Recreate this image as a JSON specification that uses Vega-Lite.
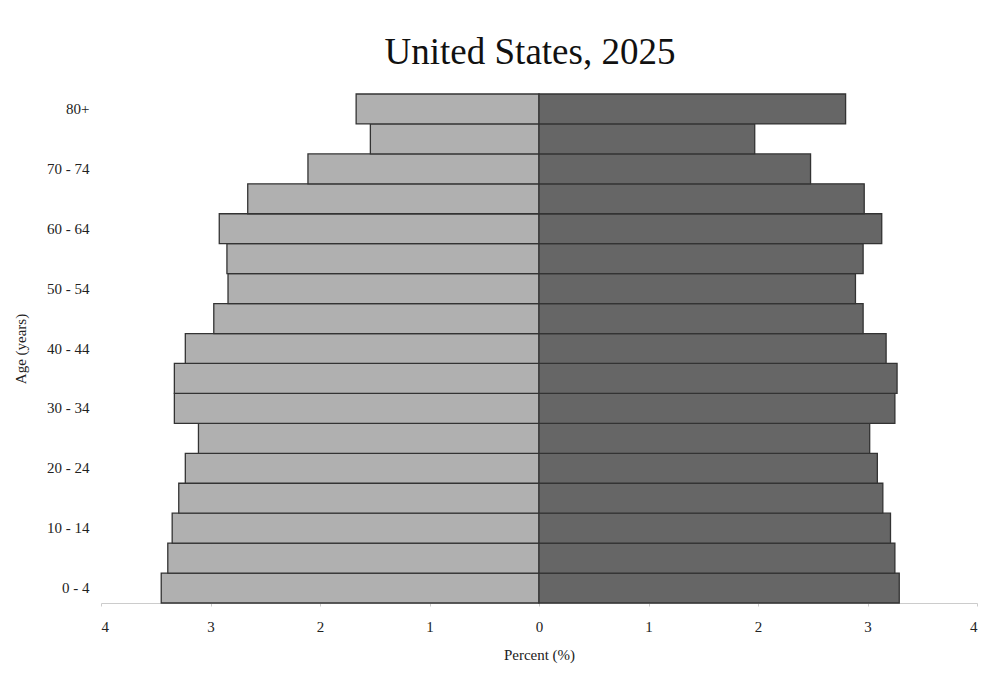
{
  "$schema": "https://vega.github.io/schema/vega-lite/v6.json",
  "width": 876,
  "height": 509,
  "autosize": {"type": "none"},
  "padding": {"left": 101, "top": 94, "right": 11, "bottom": 73},
  "background": "white",
  "title": {
    "text": "United States, 2025",
    "font": "Liberation Serif",
    "fontSize": 37,
    "fontWeight": "normal",
    "color": "#111111",
    "anchor": "middle",
    "offset": 21,
    "dx": -9
  },
  "config": {
    "view": {"stroke": null},
    "font": "Liberation Serif"
  },
  "data": {
    "values": [
      {"age": "0 - 4", "sex": "Male", "percent": -3.45},
      {"age": "5 - 9", "sex": "Male", "percent": -3.39},
      {"age": "10 - 14", "sex": "Male", "percent": -3.35},
      {"age": "15 - 19", "sex": "Male", "percent": -3.29},
      {"age": "20 - 24", "sex": "Male", "percent": -3.23},
      {"age": "25 - 29", "sex": "Male", "percent": -3.11},
      {"age": "30 - 34", "sex": "Male", "percent": -3.33},
      {"age": "35 - 39", "sex": "Male", "percent": -3.33},
      {"age": "40 - 44", "sex": "Male", "percent": -3.23},
      {"age": "45 - 49", "sex": "Male", "percent": -2.97},
      {"age": "50 - 54", "sex": "Male", "percent": -2.84},
      {"age": "55 - 59", "sex": "Male", "percent": -2.85},
      {"age": "60 - 64", "sex": "Male", "percent": -2.92},
      {"age": "65 - 69", "sex": "Male", "percent": -2.66},
      {"age": "70 - 74", "sex": "Male", "percent": -2.11},
      {"age": "75 - 79", "sex": "Male", "percent": -1.54},
      {"age": "80+", "sex": "Male", "percent": -1.67},
      {"age": "0 - 4", "sex": "Female", "percent": 3.29},
      {"age": "5 - 9", "sex": "Female", "percent": 3.25},
      {"age": "10 - 14", "sex": "Female", "percent": 3.21},
      {"age": "15 - 19", "sex": "Female", "percent": 3.14},
      {"age": "20 - 24", "sex": "Female", "percent": 3.09},
      {"age": "25 - 29", "sex": "Female", "percent": 3.02},
      {"age": "30 - 34", "sex": "Female", "percent": 3.25},
      {"age": "35 - 39", "sex": "Female", "percent": 3.27},
      {"age": "40 - 44", "sex": "Female", "percent": 3.17},
      {"age": "45 - 49", "sex": "Female", "percent": 2.96},
      {"age": "50 - 54", "sex": "Female", "percent": 2.89},
      {"age": "55 - 59", "sex": "Female", "percent": 2.96},
      {"age": "60 - 64", "sex": "Female", "percent": 3.13},
      {"age": "65 - 69", "sex": "Female", "percent": 2.97},
      {"age": "70 - 74", "sex": "Female", "percent": 2.48},
      {"age": "75 - 79", "sex": "Female", "percent": 1.97},
      {"age": "80+", "sex": "Female", "percent": 2.80}
    ]
  },
  "mark": {"type": "bar", "stroke": "#333333", "strokeWidth": 1.3},
  "encoding": {
    "y": {
      "field": "age",
      "type": "ordinal",
      "sort": ["80+", "75 - 79", "70 - 74", "65 - 69", "60 - 64", "55 - 59", "50 - 54", "45 - 49", "40 - 44", "35 - 39", "30 - 34", "25 - 29", "20 - 24", "15 - 19", "10 - 14", "5 - 9", "0 - 4"],
      "scale": {"paddingInner": 0, "paddingOuter": 0},
      "axis": {
        "title": "Age (years)",
        "values": ["0 - 4", "10 - 14", "20 - 24", "30 - 34", "40 - 44", "50 - 54", "60 - 64", "70 - 74", "80+"],
        "domain": false,
        "ticks": false,
        "labelPadding": 12,
        "labelFont": "Liberation Serif",
        "labelFontSize": 15,
        "labelColor": "#222222",
        "titleFont": "Liberation Serif",
        "titleFontSize": 15,
        "titleFontWeight": "normal",
        "titleColor": "#222222",
        "titlePadding": 18
      }
    },
    "x": {
      "field": "percent",
      "type": "quantitative",
      "scale": {"domain": [-4, 4], "nice": false},
      "axis": {
        "title": "Percent (%)",
        "values": [-4, -3, -2, -1, 0, 1, 2, 3, 4],
        "labelExpr": "abs(datum.value)",
        "grid": false,
        "domainColor": "#cccccc",
        "tickColor": "#cccccc",
        "tickSize": 3,
        "labelPadding": 13,
        "labelFont": "Liberation Serif",
        "labelFontSize": 15,
        "labelColor": "#222222",
        "titleFont": "Liberation Serif",
        "titleFontSize": 15,
        "titleFontWeight": "normal",
        "titleColor": "#222222",
        "titlePadding": 13
      }
    },
    "color": {
      "field": "sex",
      "type": "nominal",
      "scale": {"domain": ["Male", "Female"], "range": ["#b0b0b0", "#666666"]},
      "legend": null
    }
  }
}
